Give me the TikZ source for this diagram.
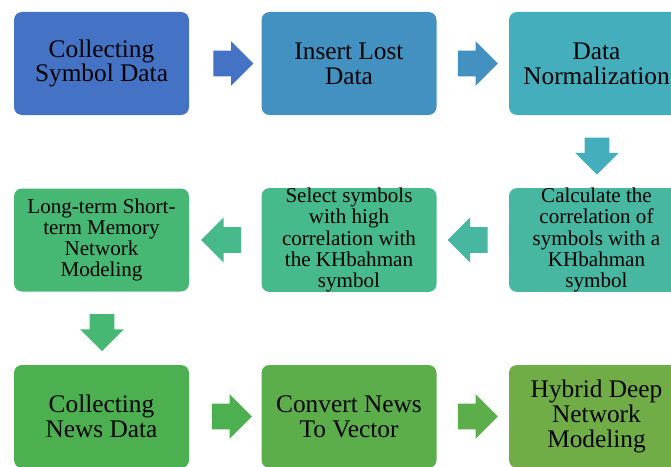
\documentclass[tikz,border=0pt]{standalone}
\usepackage{fontspec}
\setmainfont{Liberation Serif}
\usetikzlibrary{shapes.arrows}

\definecolor{stepA}{RGB}{68,114,196}
\definecolor{stepB}{RGB}{66,145,193}
\definecolor{stepC}{RGB}{69,174,189}
\definecolor{stepD}{RGB}{71,183,161}
\definecolor{stepE}{RGB}{71,186,139}
\definecolor{stepF}{RGB}{70,184,115}
\definecolor{stepG}{RGB}{76,176,80}
\definecolor{stepH}{RGB}{91,174,74}
\definecolor{stepI}{RGB}{112,173,71}

\tikzset{
	box/.style={rounded corners=6pt, minimum width=131.25pt, minimum height=77.25pt, inner sep=0pt, align=center, text=black},
	bigtxt/.style={font=\rmfamily\fontsize{19}{18.5}\selectfont},
	smalltxt/.style={font=\rmfamily\fontsize{15.8}{15.9}\selectfont},
	blockarrow/.style={single arrow, inner xsep=0pt, inner ysep=9.4pt, single arrow head extend=7.2pt, minimum height=30pt},
	downarrow/.style={single arrow, shape border rotate=270, inner xsep=9pt, inner ysep=0pt, single arrow head extend=7.2pt, minimum height=27.75pt},
}

\begin{document}
\begin{tikzpicture}[x=0.75pt,y=0.75pt,yscale=-1,xscale=1]
	\clip (0,0) rectangle (671,467);
	\useasboundingbox (0,0) rectangle (671,467);
	
	%Row 1
	\node [box, bigtxt, fill=stepA] (symdata) at (101.5,63.5) {Collecting\\Symbol Data};
	\node [box, bigtxt, fill=stepB] (lost) at (349,63.5) {Insert Lost\\Data};
	\node [box, bigtxt, fill=stepC] (norm) at (596.5,63.5) {Data\\Normalization};
	%Row 2
	\node [box, smalltxt, fill=stepD] (corr) at (596.5,240) {Calculate the\\correlation of\\symbols with a\\KHbahman\\symbol};
	\node [box, smalltxt, fill=stepE] (select) at (349,240) {Select symbols\\with high\\correlation with\\the KHbahman\\symbol};
	\node [box, smalltxt, fill=stepF] (lstm) at (101.5,240) {Long-term Short-\\term Memory\\Network\\Modeling};
	%Row 3
	\node [box, bigtxt, fill=stepG] (news) at (101.5,416.5) {Collecting\\News Data};
	\node [box, bigtxt, fill=stepH] (vec) at (349,416.5) {Convert News\\To Vector};
	\node [box, bigtxt, fill=stepI] (hybrid) at (596.5,416.5) {Hybrid Deep\\Network\\Modeling};
	
	%Block arrows
	\node [blockarrow, fill=stepA] (ar1) at (227,63.5) {};
	\node [blockarrow, fill=stepB] (ar2) at (471.5,63.5) {};
	\node [downarrow, fill=stepC] (ar3) at (597,150) {};
	\node [blockarrow, fill=stepD, shape border rotate=180] (ar4) at (474,240) {};
	\node [blockarrow, fill=stepE, shape border rotate=180] (ar5) at (227.5,240) {};
	\node [downarrow, fill=stepF] (ar6) at (102,326.5) {};
	\node [blockarrow, fill=stepG] (ar7) at (225.5,416.5) {};
	\node [blockarrow, fill=stepH] (ar8) at (471.5,416.5) {};
	
\end{tikzpicture}
\end{document}
